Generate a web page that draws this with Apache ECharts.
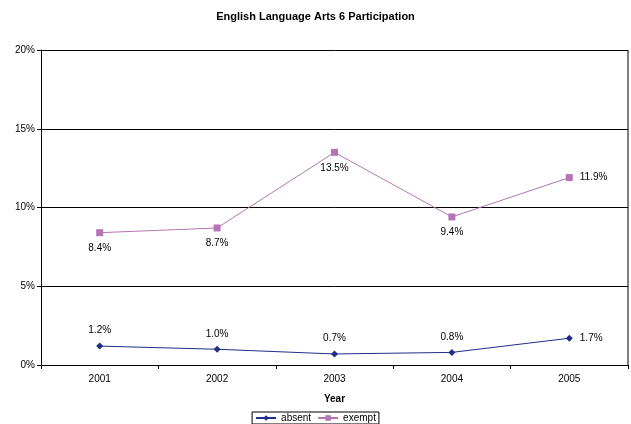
<!DOCTYPE html>
<html>
<head>
<meta charset="UTF-8">
<title>English Language Arts 6 Participation</title>
<script src="https://cdn.jsdelivr.net/npm/echarts@6/dist/echarts.min.js"></script>
<style>
  body { margin: 0; background: #fff; }
  #main { width: 631px; height: 424px; }
</style>
</head>
<body>
<div id="main"></div>
<script>
const years = ['2001', '2002', '2003', '2004', '2005'];
const absent = [1.2, 1.0, 0.7, 0.8, 1.7];
const exempt = [8.4, 8.7, 13.5, 9.4, 11.9];
// where each label sits, per point
const absentPos = ['top', 'top', 'top', 'top', 'right'];
const exemptPos = ['bottom', 'bottom', 'bottom', 'bottom', 'right'];

const font = 'Liberation Sans, Arial, sans-serif';

function withLabels(vals, pos) {
  return vals.map((v, i) => ({ value: v, label: { position: pos[i] } }));
}

const chart = echarts.init(document.getElementById('main'), null, { renderer: 'canvas' });
chart.setOption({
  animation: false,
  textStyle: { fontFamily: font },
  title: {
    text: 'English Language Arts 6 Participation',
    left: 'center', top: 6,
    textStyle: { fontSize: 11, fontWeight: 'bold', color: '#000', fontFamily: font }
  },
  grid: { left: 41, right: 3, top: 50, bottom: 59 },
  legend: {
    bottom: 0, left: 'center',
    itemWidth: 20, itemHeight: 7, itemGap: 6,
    padding: [1, 3],
    borderColor: '#000', borderWidth: 1, borderRadius: 0,
    textStyle: { fontSize: 10, color: '#000' },
    data: ['absent', 'exempt']
  },
  xAxis: {
    type: 'category',
    data: years,
    name: 'Year',
    nameLocation: 'middle',
    nameGap: 29,
    nameTextStyle: { fontSize: 10, fontWeight: 'bold', color: '#000' },
    boundaryGap: true,
    axisLine: { lineStyle: { color: '#000', width: 1 } },
    axisTick: { show: true, length: 4, lineStyle: { color: '#000' } },
    axisLabel: { fontSize: 10, color: '#000', margin: 9 }
  },
  yAxis: {
    type: 'value',
    min: 0, max: 20, interval: 5,
    axisLine: { show: true, lineStyle: { color: '#000' } },
    axisTick: { show: true, length: 4, lineStyle: { color: '#000' } },
    axisLabel: { fontSize: 10, color: '#000', formatter: '{value}%', margin: 6 },
    splitLine: { show: true, lineStyle: { color: '#000', width: 1 } }
  },
  series: [
    {
      name: 'absent', type: 'line',
      data: withLabels(absent, absentPos),
      symbol: 'diamond', symbolSize: 7,
      itemStyle: { color: '#1f2d86' },
      lineStyle: { color: '#1f2d86', width: 1 },
      label: { show: true, fontSize: 10, color: '#000', distance: 7, formatter: p => p.value.toFixed(1) + '%' }
    },
    {
      name: 'exempt', type: 'line',
      data: withLabels(exempt, exemptPos),
      symbol: 'rect', symbolSize: 7,
      itemStyle: { color: '#b574b5' },
      lineStyle: { color: '#b574b5', width: 1 },
      label: { show: true, fontSize: 10, color: '#000', distance: 7, formatter: p => p.value.toFixed(1) + '%' }
    }
  ],
  graphic: [{
    // right border of plot area
    type: 'line',
    shape: { x1: 628, y1: 50, x2: 628, y2: 365 },
    style: { stroke: '#000', lineWidth: 1 }
  }]
});
</script>
</body>
</html>
